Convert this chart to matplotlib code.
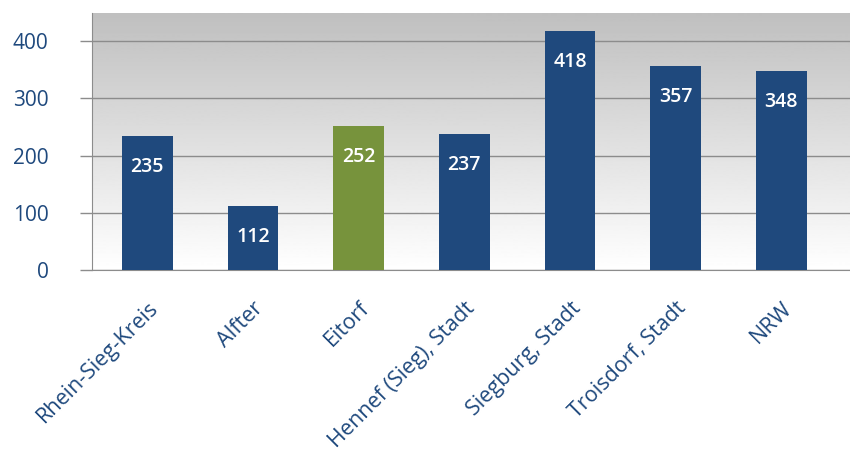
import numpy as np
import matplotlib
matplotlib.use("Agg")
from matplotlib import pyplot as plt

# data
places = ["Rhein-Sieg-Kreis", "Alfter", "Eitorf", "Hennef (Sieg), Stadt",
          "Siegburg, Stadt", "Troisdorf, Stadt", "NRW"]
values = [235, 112, 252, 237, 418, 357, 348]
highlight = "Eitorf"
y_ticks = [0, 100, 200, 300, 400]

blue = "#1f497d"
green = "#77933c"
grid_col = "#8c8c8c"

plt.rcParams["font.family"] = ["Open Sans", "DejaVu Sans"]

fig = plt.figure(figsize=(8.5, 4.5), dpi=100)
ax = fig.add_axes([0.108, 0.40, 0.892, 0.571])

x = np.arange(len(places))
x_lo, x_hi = -0.525, len(places) - 0.35
y_hi = 449

# grey (top) to white (bottom) background
grad = np.linspace(0.75, 1.0, 256).reshape(-1, 1)
ax.imshow(grad, cmap="gray", vmin=0, vmax=1, aspect="auto", origin="upper",
          extent=[x_lo, x_hi, 0, y_hi], zorder=0)
ax.set_xlim(x_lo, x_hi)
ax.set_ylim(0, y_hi)

colors = [green if p == highlight else blue for p in places]
bars = ax.bar(x, values, width=0.48, color=colors, zorder=3)

for b, v in zip(bars, values):
    ax.annotate(str(v), (b.get_x() + b.get_width() / 2, v),
                xytext=(0, -31), textcoords="offset pixels",
                ha="center", va="center", color="white", fontsize=14,
                fontweight="semibold", zorder=4)

ax.set_yticks(y_ticks)
ax.set_yticklabels([str(t) for t in y_ticks], color=blue, fontsize=15)
ax.yaxis.grid(True, color=grid_col, linewidth=1, zorder=1)
ax.tick_params(axis="y", length=9, width=1, color=grid_col, pad=22)

ax.set_xticks(x)
ax.set_xticklabels(places, rotation=45, ha="right", va="top",
                   rotation_mode="anchor", color=blue, fontsize=15.5)
ax.tick_params(axis="x", length=0, pad=20)

for s in ["top", "right"]:
    ax.spines[s].set_visible(False)
ax.spines["left"].set_color(grid_col)
ax.spines["bottom"].set_color(grid_col)
ax.set_axisbelow(True)

fig.savefig("out.png", dpi=100)
